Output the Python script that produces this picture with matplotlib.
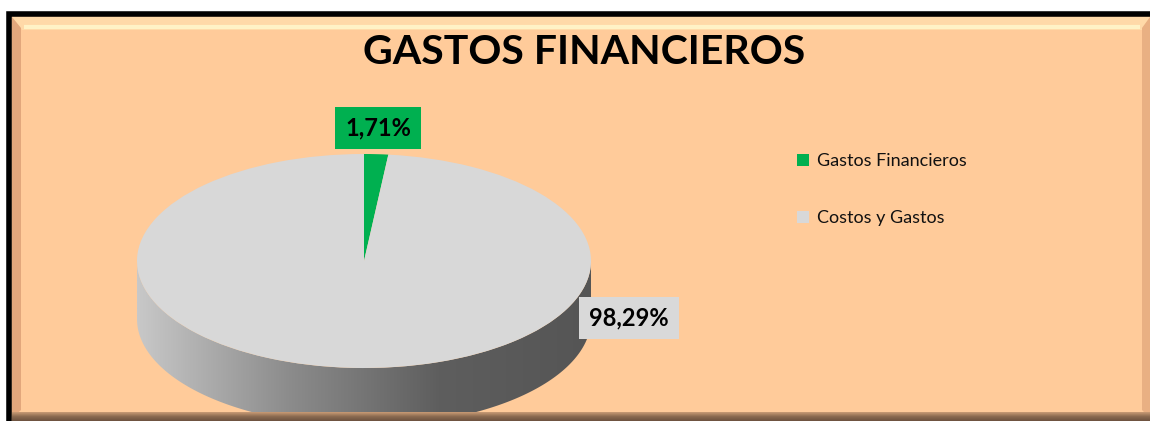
import numpy as np
import matplotlib.pyplot as plt
from matplotlib.patches import Rectangle, Polygon
from matplotlib.colors import LinearSegmentedColormap

# --- Datos ---
categorias = ["Gastos Financieros", "Costos y Gastos"]
porcentajes = [1.71, 98.29]
colores = ["#00B050", "#D8D8D8"]
titulo = "GASTOS FINANCIEROS"

W, H = 1150, 421
fig = plt.figure(figsize=(W / 100, H / 100), dpi=100)
fig.patch.set_facecolor("white")

# ejes en pixeles para el fondo y el costado del pastel
ax = fig.add_axes([0, 0, 1, 1])
ax.set_xlim(0, W)
ax.set_ylim(H, 0)
ax.axis("off")

# marco y fondo biselado
ax.add_patch(Rectangle((9, 14), W, H, facecolor="#FFCB9A", edgecolor="black", lw=4, zorder=0))
ax.add_patch(Polygon([(12, 17), (W, 17), (1142, 30), (22, 30)], closed=True,
                     facecolor="#FFD9A8", edgecolor="none", zorder=1))
ax.plot([24, 1140], [27, 27], color="#FFF2C6", lw=3, solid_capstyle="butt", zorder=1)
ax.add_patch(Polygon([(12, 17), (21, 28), (21, 410), (12, 418)], closed=True,
                     facecolor="#E2A77C", edgecolor="none", zorder=1))
ax.add_patch(Polygon([(W, 17), (1142, 28), (1142, 410), (W, 418)], closed=True,
                     facecolor="#E9B083", edgecolor="none", zorder=1))
grad_b = np.linspace(0, 1, 20).reshape(-1, 1)
cm_b = LinearSegmentedColormap.from_list("b", ["#C79A74", "#8A6A50", "#6E5340"])
ax.imshow(grad_b, cmap=cm_b, extent=(12, W, H, 412), aspect="auto", zorder=4)

# geometria del pastel (elipse)
cx, cy, a, b, prof = 364, 261, 227, 107, 58
t = np.linspace(0, np.pi, 200)
xs = cx + a * np.cos(t)
ys_top = cy + b * np.sin(t)
ys_bot = ys_top + prof
lado = np.column_stack([np.r_[xs, xs[::-1]], np.r_[ys_top, ys_bot[::-1]]])
clip = Polygon(lado, closed=True, facecolor="none", edgecolor="none", transform=ax.transData)
ax.add_patch(clip)
grad = np.linspace(0, 1, 256).reshape(1, -1)
cm_side = LinearSegmentedColormap.from_list("s", ["#C8C8C8", "#8C8C8C", "#5E5E5E", "#555555"])
im = ax.imshow(grad, cmap=cm_side, extent=(cx - a, cx + a, cy + b + prof, cy), aspect="auto", zorder=2)
im.set_clip_path(clip)

# cara superior del pastel
ax_p = fig.add_axes([(cx - a) / W, 1 - (cy + b) / H, 2 * a / W, 2 * b / H])
cuñas, _ = ax_p.pie(porcentajes, colors=colores, startangle=90, counterclock=False,
                    radius=1, wedgeprops=dict(edgecolor="none"))
ax_p.set_aspect("auto")
ax_p.set_xlim(-1, 1)
ax_p.set_ylim(-1, 1)
ax_p.axis("off")

fuente = ["Lato", "DejaVu Sans"]

# titulo
ax.text(584, 52, titulo, ha="center", va="center", fontsize=29.5, fontweight="bold",
        family=fuente, color="black", zorder=5)

# etiquetas de datos
def fmt(v):
    return f"{v:.2f}%".replace(".", ",")

ax.text(378, 128, fmt(porcentajes[0]), ha="center", va="center", fontsize=17, fontweight="bold",
        family=fuente, zorder=5,
        bbox=dict(boxstyle="square,pad=0.42", facecolor=colores[0], edgecolor="none"))
ax.text(629, 318, fmt(porcentajes[1]), ha="center", va="center", fontsize=17, fontweight="bold",
        family=fuente, zorder=5,
        bbox=dict(boxstyle="square,pad=0.42", facecolor="#D9D9D9", edgecolor="none"))

# leyenda
leg = fig.legend(cuñas, categorias, loc="upper left", bbox_to_anchor=(781 / W, 1 - 137 / H),
                 frameon=False, handlelength=0.65, handleheight=0.65, handletextpad=0.45,
                 labelspacing=2.25, prop=dict(family=fuente, size=13))
for txt in leg.get_texts():
    txt.set_color("#111111")

fig.savefig("out.png", dpi=100, facecolor=fig.get_facecolor())
